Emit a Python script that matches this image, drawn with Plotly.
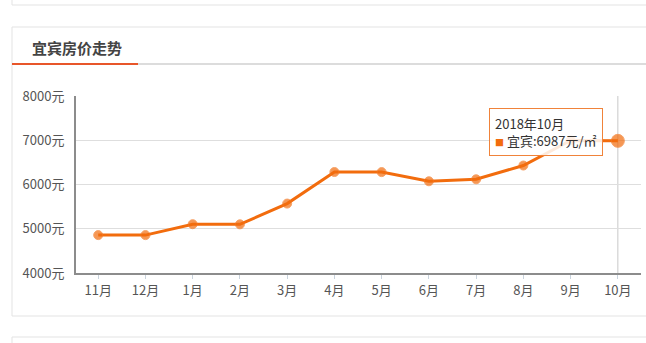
import plotly.graph_objects as go

months = ["11月", "12月", "1月", "2月", "3月", "4月", "5月", "6月", "7月", "8月", "9月", "10月"]
prices = [4856, 4856, 5103, 5100, 5569, 6282, 6280, 6073, 6118, 6429, 6995, 6987]
y_ticks = [4000, 5000, 6000, 7000, 8000]
y_tick_text = [f"{v}元" for v in y_ticks]
title_text = "宜宾房价走势"
tip_title = "2018年10月"
city = "宜宾"

W, H = 646, 343
L, R, T, B = 76, 5, 96, 70
PW, PH = W - L - R, H - T - B

def px(x):
    return (x - L) / PW

def py(y):
    return 1 - (y - T) / PH

ORANGE = "#f26c0d"
FONT = "Noto Sans CJK SC, Microsoft YaHei, sans-serif"

fig = go.Figure()
fig.add_trace(go.Scatter(
    x=list(range(len(months))), y=prices, mode="lines+markers",
    line=dict(color=ORANGE, width=3),
    marker=dict(color=ORANGE, size=[9] * (len(months) - 1) + [13],
                line=dict(color="#f47a26", width=1)),
    hoverinfo="skip", showlegend=False, cliponaxis=False,
))

shapes = []
# card frames
shapes.append(dict(type="line", xref="paper", yref="paper", x0=px(12), x1=px(660), y0=py(5), y1=py(5),
                   line=dict(color="#e3e3e3", width=1)))
shapes.append(dict(type="line", xref="paper", yref="paper", x0=px(12), x1=px(12), y0=py(-5), y1=py(5),
                   line=dict(color="#e3e3e3", width=1)))
shapes.append(dict(type="rect", xref="paper", yref="paper", x0=px(12), x1=px(660), y0=py(27), y1=py(316),
                   line=dict(color="#e3e3e3", width=1)))
shapes.append(dict(type="line", xref="paper", yref="paper", x0=px(12), x1=px(660), y0=py(64), y1=py(64),
                   line=dict(color="#dcdcdc", width=2)))
shapes.append(dict(type="line", xref="paper", yref="paper", x0=px(12), x1=px(138), y0=py(64), y1=py(64),
                   line=dict(color="#e8562a", width=2)))
shapes.append(dict(type="rect", xref="paper", yref="paper", x0=px(12), x1=px(660), y0=py(337), y1=py(360),
                   line=dict(color="#e3e3e3", width=1)))
# crosshair at last category
shapes.append(dict(type="line", xref="x", yref="paper", x0=len(months) - 1, x1=len(months) - 1, y0=0, y1=1,
                   line=dict(color="#c8c8c8", width=1), layer="below"))

fig.update_layout(
    width=W, height=H, margin=dict(l=L, r=R, t=T, b=B),
    paper_bgcolor="white", plot_bgcolor="white",
    font=dict(family=FONT, size=12, color="#555"),
    shapes=shapes,
    xaxis=dict(
        tickmode="array", tickvals=list(range(len(months))), ticktext=months,
        range=[-0.47, len(months) - 1 + 0.49], showgrid=False, zeroline=False,
        showline=True, linecolor="#8c8c8c", linewidth=2,
        ticks="outside", ticklen=4, tickcolor="#c9d3dd", tickwidth=1,
        tickfont=dict(size=13, color="#555"), fixedrange=True,
    ),
    yaxis=dict(
        tickmode="array", tickvals=y_ticks, ticktext=y_tick_text, range=[4000, 8000],
        showgrid=True, gridcolor="#dedede", gridwidth=1, zeroline=False,
        showline=True, linecolor="#8c8c8c", linewidth=2, ticks="", ticklabelstandoff=7,
        tickfont=dict(size=13, color="#555"), fixedrange=True,
    ),
    annotations=[
        dict(xref="paper", yref="paper", x=px(30), y=py(47), xanchor="left", yanchor="middle",
             text=f"<b>{title_text}</b>", showarrow=False,
             font=dict(family=FONT, size=15, color="#444")),
        dict(xref="paper", yref="paper", x=px(489), y=py(108), xanchor="left", yanchor="top",
             text=f"{tip_title}<br><span style='color:{ORANGE};font-size:9px'>■</span> {city}:{prices[-1]}元/㎡",
             align="left", showarrow=False, bgcolor="rgba(255,255,255,0.85)",
             bordercolor="#f0833a", borderwidth=1, borderpad=5,
             font=dict(family=FONT, size=13, color="#333")),
    ],
)

fig.write_html("out.html")
